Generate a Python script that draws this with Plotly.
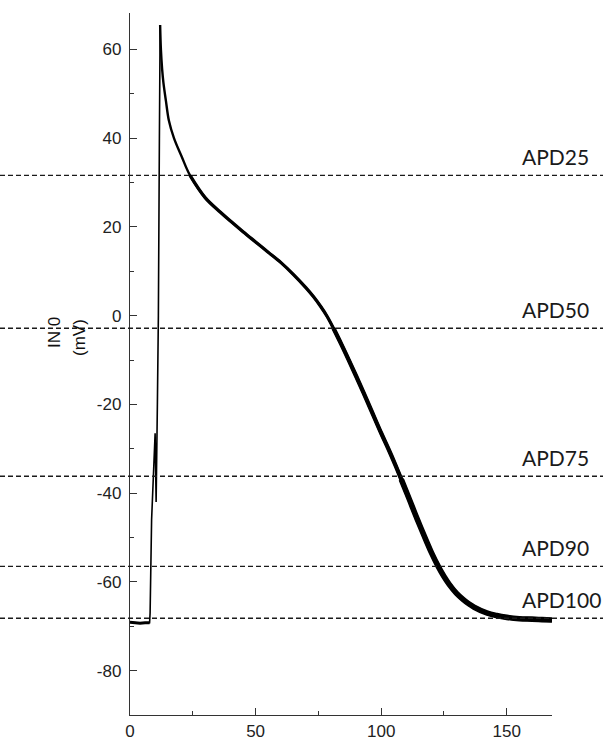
import plotly.graph_objects as go

# ---- data ----
t_up = [0, 2, 4, 6, 7.8, 8.0, 8.6, 10.0, 10.4, 10.9, 11.3, 11.7, 12.0]
v_up = [-69.1, -69.2, -69.3, -69.2, -69.2, -67.0, -46.0, -26.5, -42.0, -20.0, 0.0, 40.0, 65.5]

t_rep = [12.0, 12.3, 12.8, 13.3, 14.3, 15.5, 17.5, 20.6, 23.9, 29.9, 36, 40, 45, 50, 55, 60,
         65, 70, 73, 76, 78.5, 81, 84, 87, 90, 93, 96, 100, 103, 105.6, 108, 111, 114.3,
         118, 120, 122.7, 125, 127, 130, 132.7, 135, 137, 142, 146, 150, 155, 160, 164, 168]
v_rep = [65.5, 60.0, 55.5, 52.5, 48.4, 43.9, 40.0, 35.8, 31.6, 26.6, 23.3, 21.3, 18.9, 16.6,
         14.3, 12.0, 9.3, 6.3, 4.3, 2.0, -0.2, -2.85, -6.3, -9.9, -13.6, -17.4, -21.3, -26.5,
         -30.2, -33.6, -36.9, -41.1, -45.8, -50.8, -53.4, -56.5, -58.8, -60.5, -62.6, -64.0,
         -65.0, -65.7, -67.0, -67.6, -68.0, -68.3, -68.4, -68.5, -68.6]

apd_labels = ["APD25", "APD50", "APD75", "APD90", "APD100"]
apd_levels = [31.6, -2.85, -36.2, -56.5, -68.2]

x_ticks = [0, 50, 100, 150]
y_ticks = [-80, -60, -40, -20, 0, 20, 40, 60]

# ---- layout geometry ----
W, H = 603, 740
L, R, T, B = 130, 51, 13, 25
pw = W - L - R
ph = H - T - B

fig = go.Figure()

fig.add_trace(go.Scatter(x=t_up, y=v_up, mode="lines",
                         line=dict(color="black", width=1.6), hoverinfo="skip"))

# repolarisation: overlapping sweeps get thicker later in the trace
layers = [(12.0, 2.4), (23.9, 3.3), (81, 4.3), (108, 5.6)]
for start, w in layers:
    xs = [t for t in t_rep if t >= start]
    ys = [v for t, v in zip(t_rep, v_rep) if t >= start]
    fig.add_trace(go.Scatter(x=xs, y=ys, mode="lines",
                             line=dict(color="black", width=w, shape="spline", smoothing=1),
                             hoverinfo="skip"))

# resting segment thicker
fig.add_trace(go.Scatter(x=t_up[:5], y=v_up[:5], mode="lines",
                         line=dict(color="black", width=3), hoverinfo="skip"))

for lab, lev in zip(apd_labels, apd_levels):
    fig.add_shape(type="line", xref="paper", yref="y",
                  x0=-L / pw, x1=(W - L) / pw, y0=lev, y1=lev,
                  line=dict(color="#1a1a1a", width=1.4, dash="5px,3px"))
    fig.add_annotation(text=lab, xref="paper", yref="y",
                       x=(520 - L) / pw, y=lev, xanchor="left", yanchor="bottom",
                       showarrow=False, yshift=4,
                       font=dict(family="Lato", size=21, color="#1a1a1a"))

fig.add_annotation(text="IN 0", xref="paper", yref="paper",
                   x=(54 - L) / pw, y=(H - B - 333) / ph, xanchor="center", yanchor="middle",
                   textangle=-90, showarrow=False,
                   font=dict(family="Liberation Sans", size=17, color="#111111"))
fig.add_annotation(text="(mV)", xref="paper", yref="paper",
                   x=(80 - L) / pw, y=(H - B - 338) / ph, xanchor="center", yanchor="middle",
                   textangle=-90, showarrow=False,
                   font=dict(family="Liberation Sans", size=17, color="#111111"))

axis_common = dict(showgrid=False, zeroline=False, showline=True, linecolor="#333333",
                   linewidth=1.3, ticks="inside", ticklen=7, tickwidth=1.3,
                   tickcolor="#333333", automargin=False,
                   tickfont=dict(family="Liberation Sans", size=17, color="#222222"),
                   minor=dict(ticks="inside", ticklen=4, tickwidth=1.3, tickcolor="#333333"))

fig.update_xaxes(range=[0, 168], tickvals=x_ticks, ticktext=[str(v) for v in x_ticks],
                 minor_tickvals=[25, 75, 125], ticklabelstandoff=0, **axis_common)
fig.update_yaxes(range=[-90, 68.2], tickvals=y_ticks, ticktext=[str(v) for v in y_ticks],
                 minor_tickvals=[-90, -70, -50, -30, -10, 10, 30, 50],
                 ticklabelstandoff=4, **axis_common)

fig.update_layout(width=W, height=H, margin=dict(l=L, r=R, t=T, b=B, autoexpand=False),
                  plot_bgcolor="white", paper_bgcolor="white", showlegend=False)

fig.write_html("out.html")
